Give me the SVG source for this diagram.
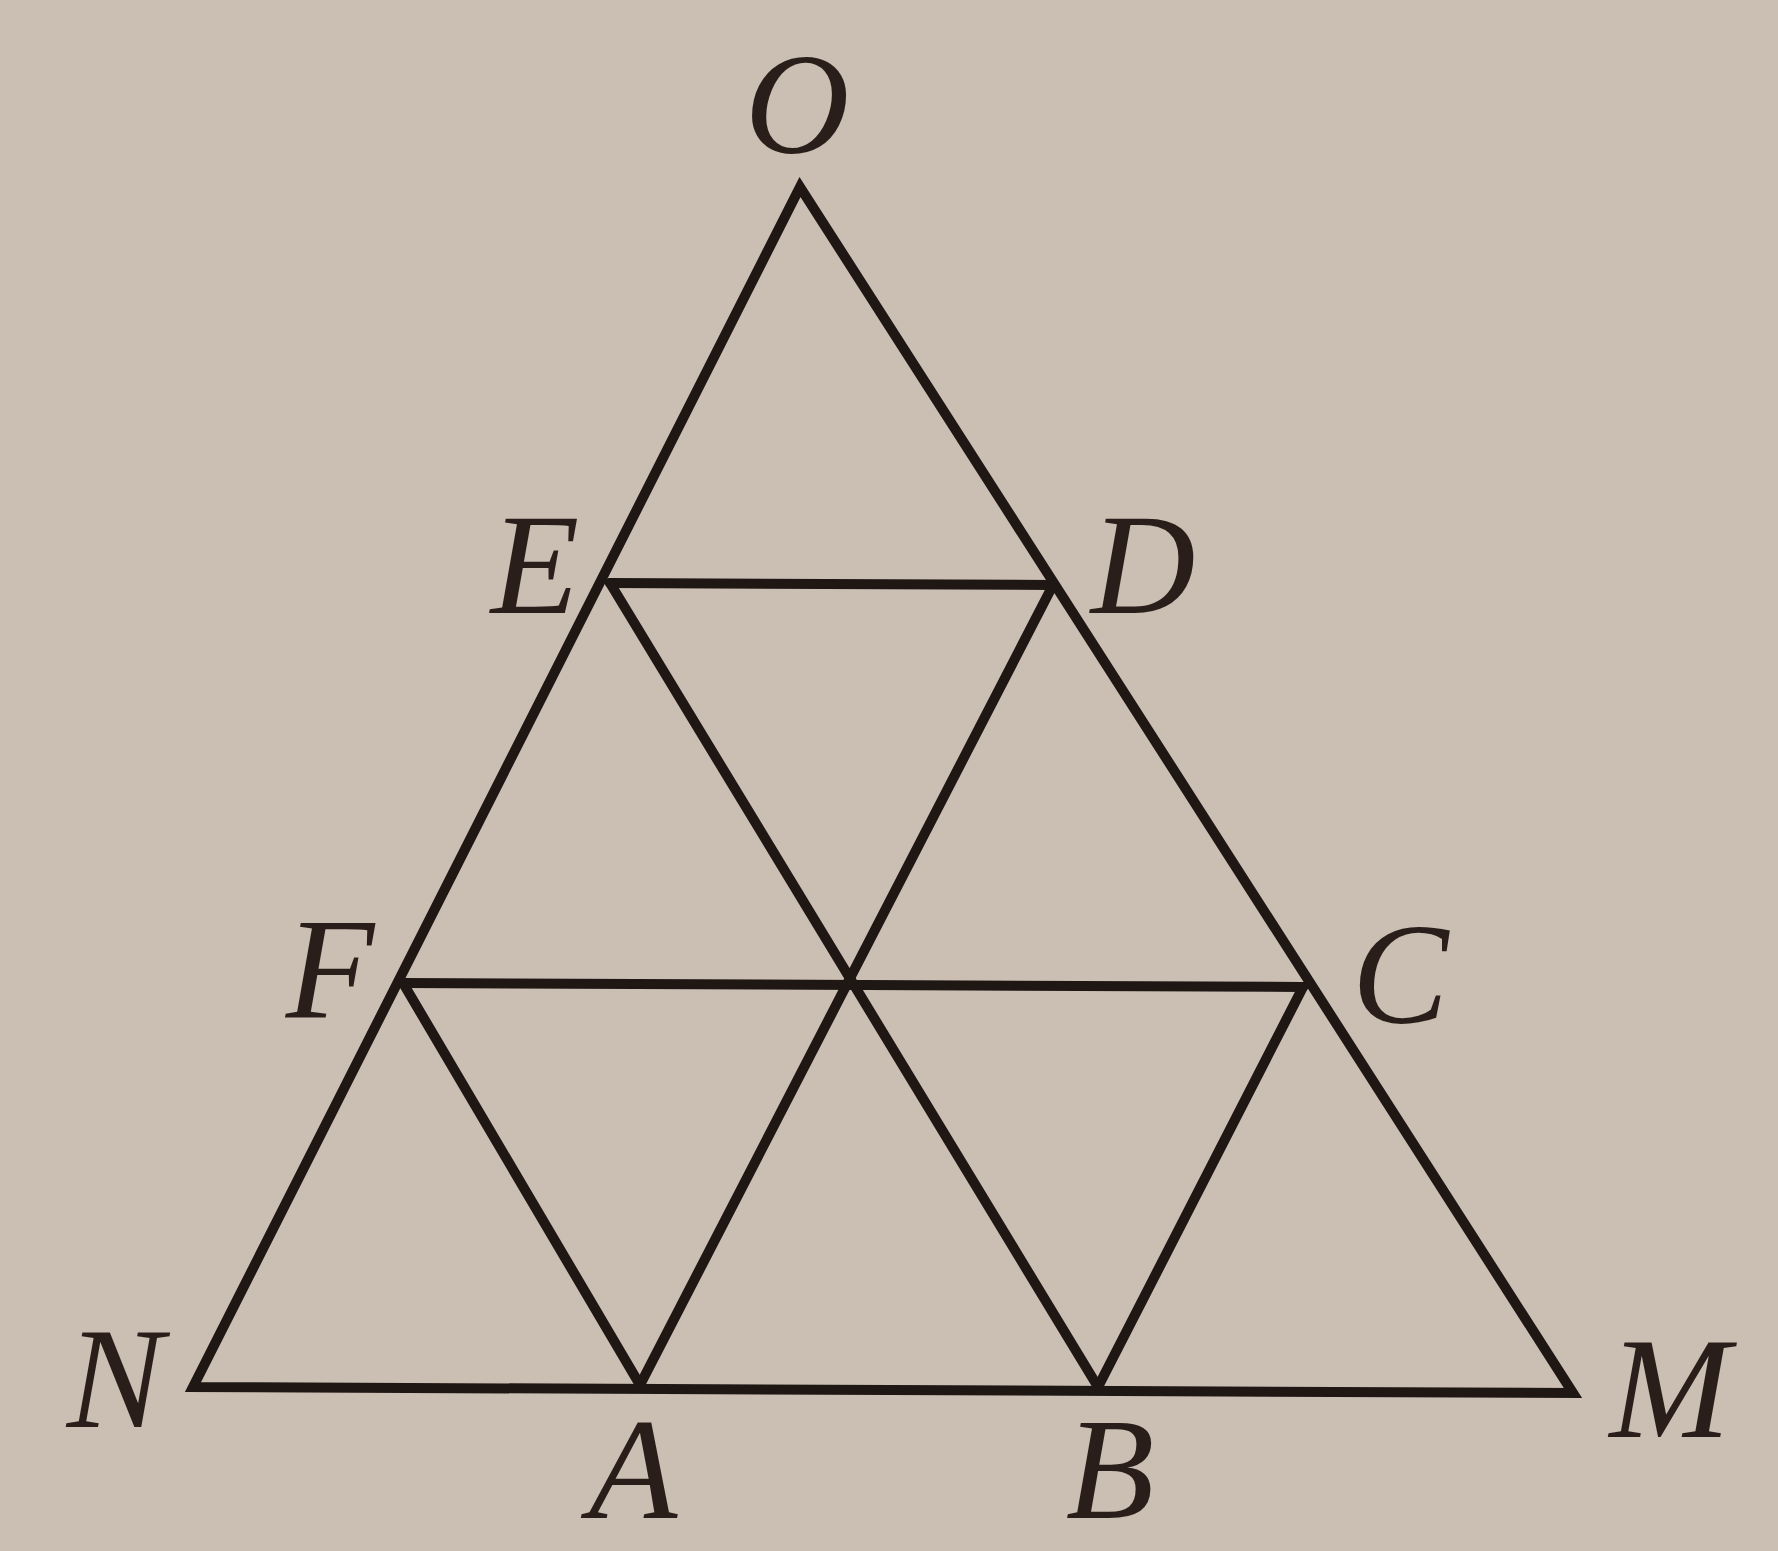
<svg xmlns="http://www.w3.org/2000/svg" width="1778" height="1551" viewBox="0 0 1778 1551">
<style>
.bg{fill:#cbbfb3}
.ln{stroke:#1f1714;stroke-width:10;stroke-linecap:round;stroke-linejoin:miter;fill:none}
.lb{font-family:"Liberation Serif","DejaVu Serif",serif;font-style:italic;font-size:145px;fill:#2a1e1a;text-anchor:middle}
</style>
<rect class="bg" x="0" y="0" width="1778" height="1551"/>
<g id="connectors">
<path class="ln" d="M800,187 L193,1387 L1573,1393 Z"/>
<line class="ln" x1="610" y1="583" x2="1053" y2="585"/>
<line class="ln" x1="403" y1="983" x2="1303" y2="987"/>
<line class="ln" x1="610" y1="583" x2="1098" y2="1387"/>
<line class="ln" x1="403" y1="983" x2="640" y2="1385"/>
<line class="ln" x1="1053" y1="585" x2="640" y2="1385"/>
<line class="ln" x1="1303" y1="987" x2="1098" y2="1387"/>
</g>
<g id="O"><text class="lb" x="797" y="153">O</text></g>
<g id="E"><text class="lb" x="535" y="613">E</text></g>
<g id="D"><text class="lb" x="1143" y="613">D</text></g>
<g id="F"><text class="lb" x="330" y="1017">F</text></g>
<g id="C"><text class="lb" x="1400" y="1023">C</text></g>
<g id="N"><text class="lb" x="115" y="1427">N</text></g>
<g id="M"><text class="lb" x="1670" y="1437">M</text></g>
<g id="A"><text class="lb" x="633" y="1518">A</text></g>
<g id="B"><text class="lb" x="1110" y="1518">B</text></g>
</svg>
